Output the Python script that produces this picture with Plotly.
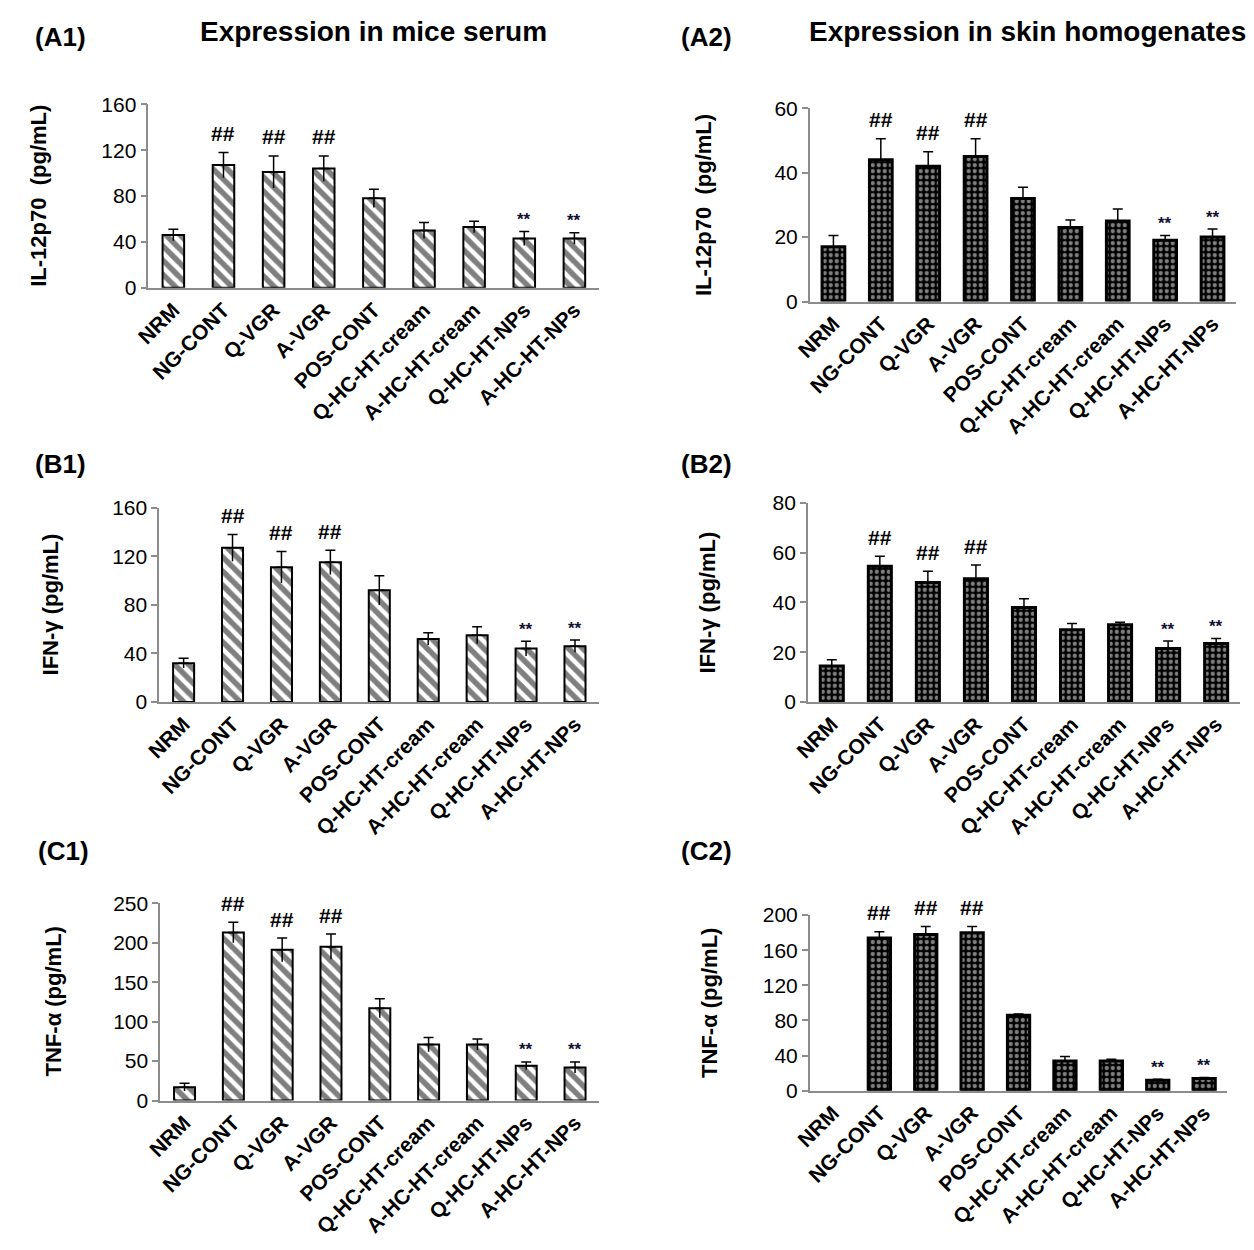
import plotly.graph_objects as go

W, H = 1254, 1250

categories = ["NRM", "NG-CONT", "Q-VGR", "A-VGR", "POS-CONT",
              "Q-HC-HT-cream", "A-HC-HT-cream", "Q-HC-HT-NPs", "A-HC-HT-NPs"]

# IL-12p70 (pg/mL)
il12_serum = [46, 107, 101, 104, 78, 50, 53, 43, 43]
il12_serum_err = [5, 11, 14, 11, 8, 7, 5, 6, 5]
il12_skin = [17, 44, 42, 45, 32, 23, 25, 19, 20]
il12_skin_err = [3.5, 6.5, 4.5, 5.5, 3.5, 2.3, 3.7, 1.5, 2.5]

# IFN-gamma (pg/mL)
ifng_serum = [32, 127, 111, 115, 92, 52, 55, 44, 46]
ifng_serum_err = [4, 11, 13, 10, 12, 5, 7, 6, 5]
ifng_skin = [14.5, 54.5, 48, 49.5, 38, 29, 31, 21.5, 23.5]
ifng_skin_err = [2.5, 4, 4.5, 5.5, 3.5, 2.5, 1, 3, 2]

# TNF-alpha (pg/mL)
tnfa_serum = [17, 213, 191, 195, 117, 71, 71, 44, 42]
tnfa_serum_err = [5, 13, 15, 16, 12, 9, 7, 5, 7]
tnfa_skin = [None, 174, 178, 180, 86, 34, 34, 12, 14]
tnfa_skin_err = [0, 7, 9, 7, 1.5, 5, 2, 1, 1]

# significance marks per group
significance = ["", "##", "##", "##", "", "", "", "**", "**"]

FONT = "Liberation Sans, Arial, sans-serif"

# panel layout in pixels: x0, x1 (plot area), y_bottom, y_top
panels = [
    dict(label="(A1)", vals=il12_serum, err=il12_serum_err, ymax=160, dtick=40,
         box=(134, 591, 281, 94), style="hatch", ytitle="IL-12p70  (pg/mL)", tx=22,
         lab=(17, 25)),
    dict(label="(A2)", vals=il12_skin, err=il12_skin_err, ymax=60, dtick=20,
         box=(804, 1236, 295, 98), style="check", ytitle="IL-12p70  (pg/mL)", tx=697,
         lab=(672, 25)),
    dict(label="(B1)", vals=ifng_serum, err=ifng_serum_err, ymax=160, dtick=40,
         box=(145, 591, 703, 505), style="hatch", ytitle="IFN-γ (pg/mL)", tx=35,
         lab=(17, 460)),
    dict(label="(B2)", vals=ifng_skin, err=ifng_skin_err, ymax=80, dtick=20,
         box=(802, 1240, 703, 500), style="check", ytitle="IFN-γ (pg/mL)", tx=700,
         lab=(672, 460)),
    dict(label="(C1)", vals=tnfa_serum, err=tnfa_serum_err, ymax=250, dtick=50,
         box=(146, 591, 1109, 908), style="hatch", ytitle="TNF-α (pg/mL)", tx=38,
         lab=(20, 855)),
    dict(label="(C2)", vals=tnfa_skin, err=tnfa_skin_err, ymax=200, dtick=40,
         box=(804, 1227, 1099, 920), style="check", ytitle="TNF-α (pg/mL)", tx=703,
         lab=(672, 855)),
]

fig = go.Figure()
annotations = []

for i, p in enumerate(panels, start=1):
    xa = "x" if i == 1 else f"x{i}"
    ya = "y" if i == 1 else f"y{i}"
    x0, x1, yb, yt = p["box"]
    n = len(categories)

    if p["style"] == "hatch":
        marker = dict(color="white", line=dict(color="black", width=2),
                      pattern=dict(shape="\\", fgcolor="black", bgcolor="white",
                                   size=10, solidity=0.55))
        bar_w = 0.43
    else:
        marker = dict(color="black", line=dict(color="black", width=3),
                      pattern=dict(shape=".", fgcolor="white", bgcolor="black",
                                   size=6, solidity=0.4))
        bar_w = 0.48

    fig.add_trace(go.Bar(
        x=categories, y=p["vals"], xaxis=xa, yaxis=ya, marker=marker,
        width=[bar_w] * n,
        error_y=dict(type="data", array=p["err"], arrayminus=[0] * n,
                     color="black", thickness=1.5, width=5),
        showlegend=False, hoverinfo="skip",
    ))
    if p["style"] == "hatch":
        # lower half of the error bar, drawn over the hatched fill
        fig.add_trace(go.Scatter(
            x=categories, y=p["vals"], xaxis=xa, yaxis=ya, mode="markers",
            marker=dict(size=1, opacity=0),
            error_y=dict(type="data", array=[0] * n, arrayminus=p["err"],
                         color="black", thickness=1.5, width=0),
            showlegend=False, hoverinfo="skip",
        ))

    fig.layout[("xaxis" if i == 1 else f"xaxis{i}")] = dict(
        domain=[x0 / W, x1 / W], anchor=ya, type="category",
        range=[-0.5, n - 0.5],
        showline=True, linecolor="#8c8c8c", linewidth=1.5, ticks="",
        showgrid=False, zeroline=False, tickangle=-45,
        tickfont=dict(family=FONT, size=21, color="black", weight="bold"),
    )
    fig.layout[("yaxis" if i == 1 else f"yaxis{i}")] = dict(
        domain=[1 - yb / H, 1 - yt / H], anchor=xa,
        range=[0, p["ymax"]], dtick=p["dtick"], tick0=0,
        showline=True, linecolor="#8c8c8c", linewidth=1.5,
        ticks="outside", ticklen=6, tickcolor="#8c8c8c", tickwidth=1.5,
        showgrid=False, zeroline=False,
        tickfont=dict(family=FONT, size=21, color="black"),
    )

    # vertical axis title
    annotations.append(dict(
        text=p["ytitle"], textangle=-90, xref="paper", yref="paper",
        x=p["tx"] / W, y=1 - (yb + yt) / 2 / H, xanchor="center", yanchor="middle",
        showarrow=False, font=dict(family=FONT, size=22, color="black", weight="bold"),
    ))
    # panel label
    lx, ly = p["lab"]
    annotations.append(dict(
        text=p["label"], xref="paper", yref="paper", x=lx / W, y=1 - ly / H,
        xanchor="left", yanchor="middle", showarrow=False,
        font=dict(family=FONT, size=26, color="black", weight="bold"),
    ))
    # significance marks above the error bars
    for cat, v, e, s in zip(categories, p["vals"], p["err"], significance):
        if not s or v is None:
            continue
        if s == "##":
            annotations.append(dict(
                text=s, x=cat, y=v + e, xref=xa, yref=ya, xanchor="center",
                yanchor="middle", yshift=19, showarrow=False,
                font=dict(family=FONT, size=21, color="black", weight="bold"),
            ))
        else:
            annotations.append(dict(
                text=s, x=cat, y=v + e, xref=xa, yref=ya, xanchor="center",
                yanchor="middle", yshift=12, showarrow=False,
                font=dict(family=FONT, size=17, color="#111133", weight="bold"),
            ))

annotations.append(dict(
    text="Expression in mice serum", xref="paper", yref="paper",
    x=362 / W, y=1 - 20 / H, xanchor="center", yanchor="middle", showarrow=False,
    font=dict(family=FONT, size=28, color="black", weight="bold"),
))
annotations.append(dict(
    text="Expression in skin homogenates", xref="paper", yref="paper",
    x=1025 / W, y=1 - 20 / H, xanchor="center", yanchor="middle", showarrow=False,
    font=dict(family=FONT, size=28, color="black", weight="bold"),
))

fig.update_layout(
    width=W, height=H, margin=dict(l=0, r=0, t=0, b=0),
    paper_bgcolor="white", plot_bgcolor="white",
    annotations=annotations, showlegend=False,
)

fig.write_html("out.html")
